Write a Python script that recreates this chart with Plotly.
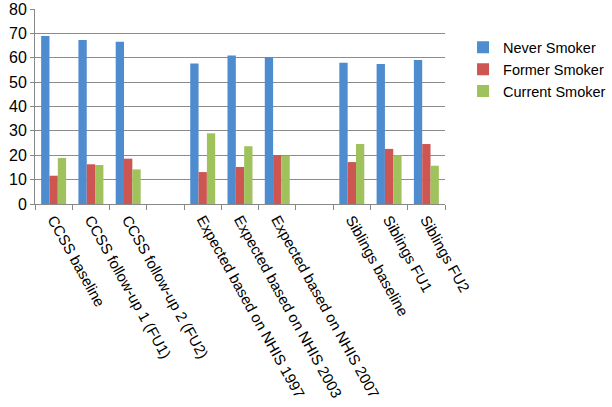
import plotly.graph_objects as go

# categories (blank entries are the gaps between groups)
categories = [
    "CCSS baseline",
    "CCSS follow-up 1 (FU1)",
    "CCSS follow-up 2 (FU2)",
    " ",
    "Expected based on NHIS 1997",
    "Expected based on NHIS 2003",
    "Expected based on NHIS 2007",
    "  ",
    "Siblings baseline",
    "Siblings FU1",
    "Siblings FU2",
]

never_smoker = [68.9, 67.3, 66.6, None, 57.6, 60.9, 60.2, None, 58.0, 57.4, 59.1]
former_smoker = [11.6, 16.3, 18.6, None, 13.1, 15.2, 20.1, None, 17.2, 22.6, 24.6]
current_smoker = [18.9, 16.0, 14.2, None, 29.0, 23.7, 19.8, None, 24.6, 20.0, 15.7]

series = [
    ("Never Smoker", never_smoker, "#4F8BCF"),
    ("Former Smoker", former_smoker, "#CD5653"),
    ("Current Smoker", current_smoker, "#A0C25C"),
]

fig = go.Figure()
for name, vals, col in series:
    fig.add_trace(go.Bar(x=categories, y=vals, name=name, marker_color=col,
                         marker_line_width=0))

fig.update_layout(
    width=612,
    height=407,
    barmode="group",
    bargap=0.33,
    bargroupgap=0,
    plot_bgcolor="white",
    paper_bgcolor="white",
    font=dict(family="Liberation Sans, Arial, sans-serif", color="black"),
    margin=dict(l=35, r=167, t=9, b=203, autoexpand=False),
    legend=dict(
        x=1.044, y=0.885, xanchor="left", yanchor="top",
        font=dict(size=14.5),
        itemwidth=30,
        tracegroupgap=0,
    ),
)
fig.update_xaxes(
    type="category",
    categoryorder="array",
    categoryarray=categories,
    tickangle=61,
    tickfont=dict(size=15),
    tickson="boundaries",
    ticks="outside",
    ticklen=5,
    tickcolor="#888888",
    showline=True,
    linecolor="#888888",
    showgrid=False,
    automargin=False,
)
fig.update_yaxes(
    range=[0, 80],
    dtick=10,
    tickfont=dict(size=16),
    showgrid=True,
    gridcolor="#8c8c8c",
    gridwidth=1,
    showline=True,
    linecolor="#888888",
    ticks="outside",
    ticklen=4,
    tickcolor="#888888",
    zeroline=False,
    automargin=False,
)

# the page body has a default 8px margin; drop it so the figure sits at 0,0
fig.write_html(
    "out.html",
    config={"displayModeBar": False},
    post_script="document.body.style.margin='0';",
)
